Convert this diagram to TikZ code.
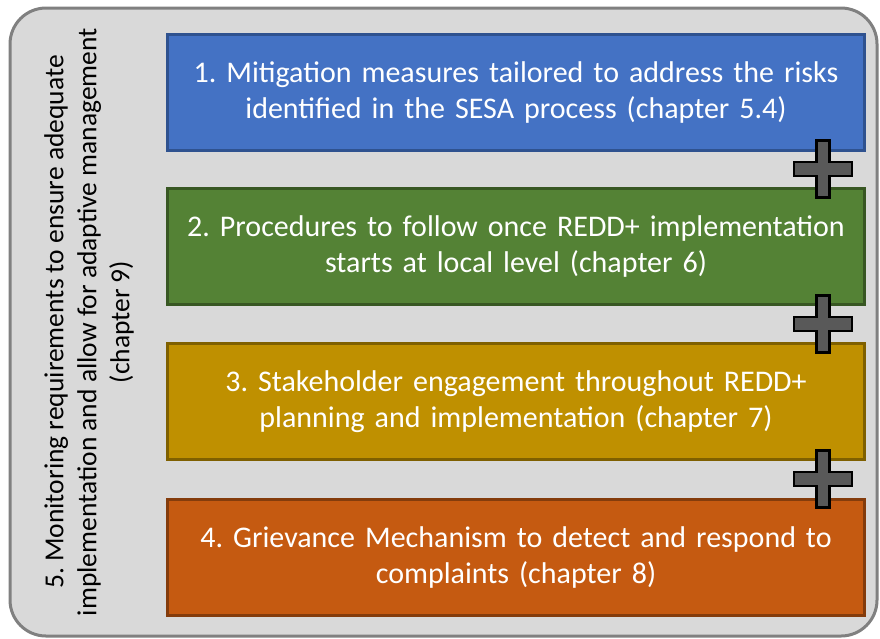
\documentclass[tikz,border=0pt]{standalone}
\usepackage{fontspec}
\setmainfont{Carlito}
\begin{document}
\frenchspacing
\begin{tikzpicture}[x=1pt,y=-1pt,
  panel/.style={draw=black!50,line width=3pt,fill=black!15,rounded corners=36pt},
  stepbox/.style={line width=3pt,minimum width=697pt,minimum height=116pt,
    text width=690pt,align=center,text=white,font=\fontsize{30}{36}\selectfont,inner sep=0pt},
  plusbar/.style={draw=black,line width=2.5pt,fill=black!65}]
\useasboundingbox (0,0) rectangle (880,638);
% outer frame holding the four steps and the monitoring label
\path[panel] (10,8) rectangle (877,636);
\node[stepbox,draw={rgb,255:red,47;green,82;blue,143},fill={rgb,255:red,68;green,114;blue,196}] (s1) at (516,92)
  {1. Mitigation measures tailored to address the risks\\identified in the SESA process (chapter 5.4)};
\node[stepbox,draw={rgb,255:red,56;green,87;blue,35},fill={rgb,255:red,84;green,130;blue,53}] (s2) at (516,246.5)
  {2. Procedures to follow once REDD+ implementation\\starts at local level (chapter 6)};
\node[stepbox,draw={rgb,255:red,127;green,96;blue,0},fill={rgb,255:red,191;green,144;blue,0}] (s3) at (516,401.5)
  {3. Stakeholder engagement throughout REDD+\\planning and implementation (chapter 7)};
\node[stepbox,draw={rgb,255:red,132;green,60;blue,12},fill={rgb,255:red,197;green,90;blue,17}] (s4) at (516,557)
  {4. Grievance Mechanism to detect and respond to\\complaints (chapter 8)};
% plus signs between consecutive steps
\foreach \c/\yy in {p1/169,p2/324,p3/479}{
  \coordinate (\c) at (823,\yy);
  \path[plusbar] ([xshift=-6.5pt,yshift=28.5pt]\c) -- ++(13,0) -- ++(0,21.5) -- ++(22.5,0) -- ++(0,14)
    -- ++(-22.5,0) -- ++(0,21.5) -- ++(-13,0) -- ++(0,-21.5) -- ++(-22.5,0) -- ++(0,-14) -- ++(22.5,0) -- cycle;
}
\node[rotate=90,align=center,font=\fontsize{27.5}{33}\selectfont,inner sep=0pt] (m) at (89,322)
  {5. Monitoring requirements to ensure adequate\\implementation and allow for adaptive management\\(chapter 9)};
\end{tikzpicture}
\end{document}
